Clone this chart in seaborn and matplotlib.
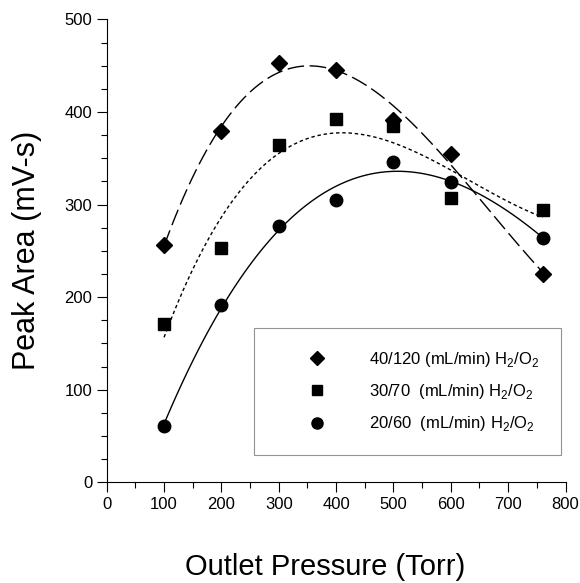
import matplotlib
matplotlib.use("Agg")
import matplotlib.pyplot as plt
import seaborn as sns
import pandas as pd
from matplotlib.ticker import MultipleLocator
from matplotlib.lines import Line2D

pressure = [100, 200, 300, 400, 500, 600, 760]
area_40_120 = [256, 379, 453, 445, 391, 355, 225]
area_30_70 = [171, 253, 364, 392, 385, 307, 294]
area_20_60 = [61, 192, 277, 305, 346, 324, 264]
labels = ["40/120 (mL/min) H$_2$/O$_2$",
          "30/70  (mL/min) H$_2$/O$_2$",
          "20/60  (mL/min) H$_2$/O$_2$"]

sns.set_theme(style="ticks")
plt.rcParams["font.family"] = ["Liberation Sans", "DejaVu Sans"]
plt.rcParams["mathtext.fontset"] = "custom"
plt.rcParams["mathtext.rm"] = "Liberation Sans"
plt.rcParams["text.color"] = "black"
plt.rcParams["axes.labelcolor"] = "black"

df = pd.concat([
    pd.DataFrame({"P": pressure, "A": area_40_120, "s": labels[0]}),
    pd.DataFrame({"P": pressure, "A": area_30_70, "s": labels[1]}),
    pd.DataFrame({"P": pressure, "A": area_20_60, "s": labels[2]}),
])

fig = plt.figure(figsize=(5.8, 5.83), dpi=100)
ax = fig.add_axes([0.184, 0.1727, 0.791, 0.794])

styles = [
    dict(marker="D", ms=8, ls=(0, (12, 4))),
    dict(marker="s", ms=8, ls=(0, (2.5, 2))),
    dict(marker="o", ms=9, ls="-"),
]
handles = []
for lab, st in zip(labels, styles):
    sub = df[df["s"] == lab]
    sns.regplot(data=sub, x="P", y="A", order=3, ci=None, scatter=False,
                truncate=True, ax=ax,
                line_kws=dict(color="black", lw=1.0, linestyle=st["ls"]))
    ax.plot(sub["P"], sub["A"], linestyle="none", marker=st["marker"],
            ms=st["ms"], color="black", mec="black")
    handles.append(Line2D([], [], linestyle="none", marker=st["marker"],
                          ms=st["ms"] - 1, color="black"))

ax.set_xlim(0, 800)
ax.set_ylim(0, 500)
ax.xaxis.set_major_locator(MultipleLocator(100))
ax.xaxis.set_minor_locator(MultipleLocator(50))
ax.yaxis.set_major_locator(MultipleLocator(100))
ax.yaxis.set_minor_locator(MultipleLocator(25))
ax.tick_params(which="major", length=7, width=0.8, labelsize=12, direction="out",
               colors="black", labelcolor="black")
ax.tick_params(which="minor", length=4, width=0.8, direction="out", colors="black")
sns.despine(ax=ax)
for sp in ["left", "bottom"]:
    ax.spines[sp].set_linewidth(0.8)
    ax.spines[sp].set_color("black")

ax.set_xlabel("Outlet Pressure (Torr)", fontsize=21)
ax.xaxis.set_label_coords(0.477, -0.152, transform=ax.transAxes)
ax.xaxis.label.set_verticalalignment("top")
ax.set_ylabel("Peak Area (mV-s)", fontsize=22, labelpad=16)

leg = fig.legend(handles, labels, loc="upper left",
                 bbox_to_anchor=(254 / 580, 1 - 328 / 583),
                 frameon=True, fancybox=False, fontsize=12,
                 handlelength=5.0, handletextpad=0.6,
                 borderpad=1.3, labelspacing=0.8, borderaxespad=0.0)
leg.get_frame().set_edgecolor("#777777")
leg.get_frame().set_linewidth(0.8)

fig.savefig("out.png", dpi=100)
